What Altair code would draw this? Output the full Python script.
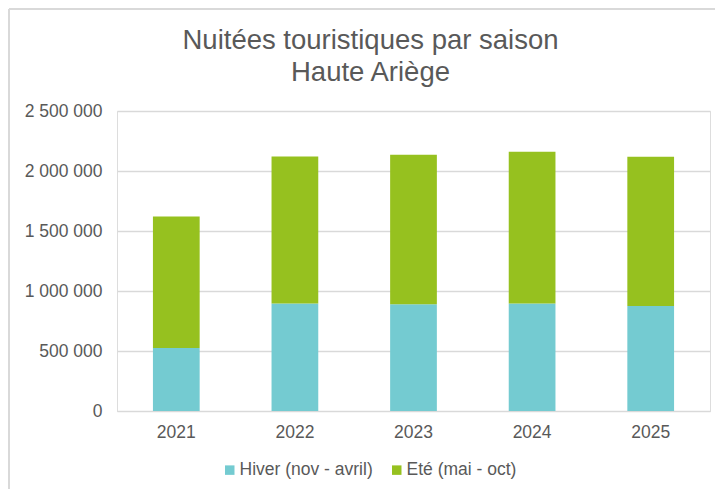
import altair as alt
import pandas as pd

years = ["2021", "2022", "2023", "2024", "2025"]
hiver = [525000, 895000, 890000, 895000, 875000]
ete = [1095000, 1225000, 1246000, 1266000, 1244000]
series = ["Hiver (nov - avril)", "Eté (mai - oct)"]
colors = ["#74CBD1", "#96C11F"]
y_ticks = [0, 500000, 1000000, 1500000, 2000000, 2500000]

rows = []
for i, yr in enumerate(years):
    rows.append({"annee": yr, "saison": series[0], "valeur": hiver[i], "ordre": 0})
    rows.append({"annee": yr, "saison": series[1], "valeur": ete[i], "ordre": 1})
df = pd.DataFrame(rows)

W, H = 593, 300
TXT = "#595959"
FONT = "Liberation Sans"
FS = 17.5

bars = alt.Chart(df).mark_bar().encode(
    x=alt.X("annee:N", sort=years, title=None,
            scale=alt.Scale(paddingInner=0.606, paddingOuter=0.303),
            axis=alt.Axis(labelAngle=0, ticks=False, domain=True, domainColor="#d9d9d9",
                          labelPadding=12, labelFontSize=FS, labelColor=TXT, labelFont=FONT)),
    y=alt.Y("valeur:Q", stack="zero", title=None,
            scale=alt.Scale(domain=[0, 2500000], nice=False),
            axis=alt.Axis(values=y_ticks, format=",.0f", ticks=False, domain=False,
                          gridColor="#d9d9d9", gridWidth=1.3, labelPadding=15,
                          labelFontSize=FS, labelColor=TXT, labelFont=FONT)),
    color=alt.Color("saison:N", sort=series, title=None,
                    scale=alt.Scale(domain=series, range=colors),
                    legend=alt.Legend(orient="none", legendX=104, legendY=350, direction="horizontal",
                                      symbolType="square", symbolSize=90, symbolStrokeWidth=0,
                                      labelFontSize=FS, labelColor=TXT, labelFont=FONT,
                                      columnPadding=15, labelOffset=1)),
    order=alt.Order("ordre:Q"),
)

border_v = alt.Chart().mark_rule(color="#d9d9d9", strokeWidth=2).encode(
    x=alt.value(-108), y=alt.value(-102), y2=alt.value(H + 78))
border_h = alt.Chart().mark_rule(color="#d9d9d9", strokeWidth=2).encode(
    x=alt.value(-108), x2=alt.value(W + 5), y=alt.value(-102))

chart = alt.layer(bars, border_v, border_h).properties(
    width=W, height=H,
    title=alt.TitleParams(["Nuitées touristiques par saison", "Haute Ariège"],
                          fontSize=27.5, fontWeight="normal", color=TXT, font=FONT,
                          anchor="middle", frame="group", dx=-43, offset=-78, lineHeight=32),
    autosize=alt.AutoSizeParams(type="none"),
    padding={"left": 109, "top": 103, "right": 5, "bottom": 78},
).configure_view(stroke=None).configure(
    locale={"number": {"decimal": ",", "thousands": "\u00a0", "grouping": [3], "currency": ["", " €"]}}
)

chart.save("out.html", embed_options={"renderer": "svg", "actions": False})
